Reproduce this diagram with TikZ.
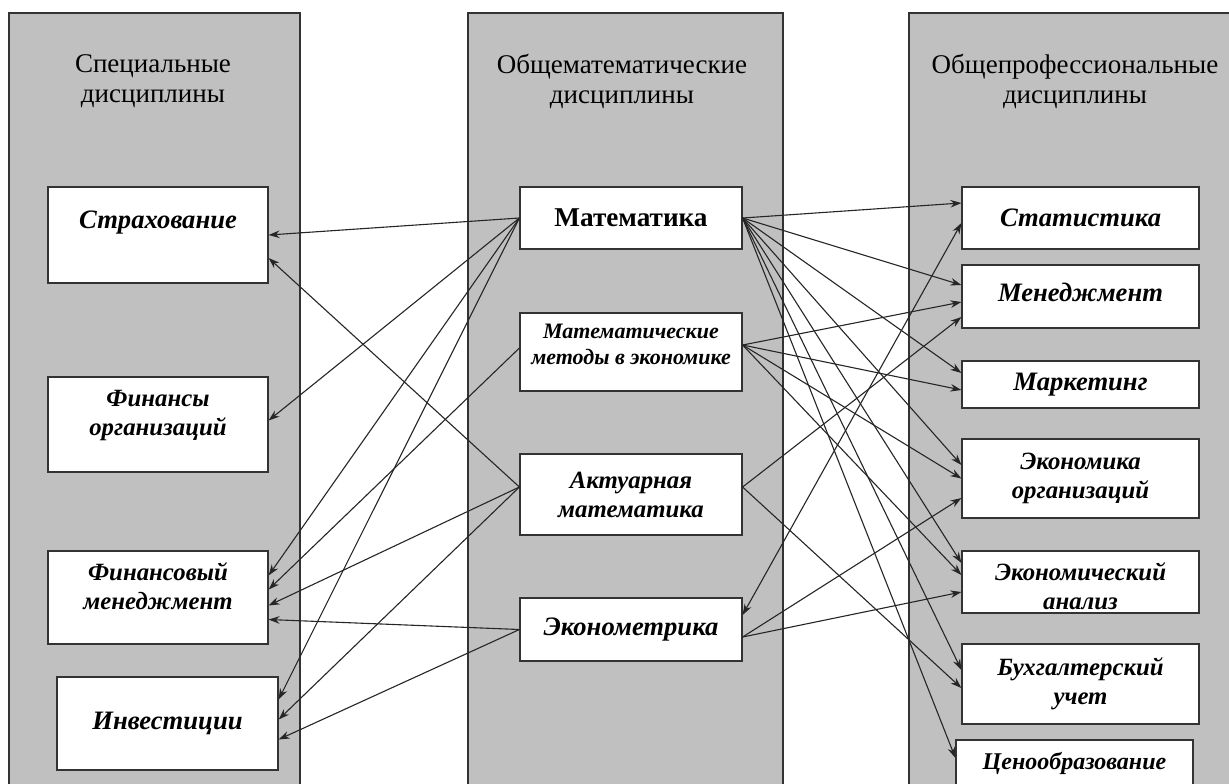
\documentclass[tikz,border=0pt]{standalone}
\usepackage{fontspec}
\setmainfont{Liberation Serif}
\usetikzlibrary{arrows.meta}
\definecolor{panelgray}{RGB}{192,192,192}
\begin{document}
\begin{tikzpicture}[x=0.5pt,y=-0.5pt,
		panel/.style={fill=panelgray,draw=black!80,line width=0.7pt},
		box/.style={draw=black!80,fill=white,line width=0.6pt,inner sep=1pt,align=center,font=\fontsize{13.3}{14.5}\selectfont\bfseries\itshape},
		twoline/.style={font=\fontsize{12.4}{14.5}\selectfont\bfseries\itshape},
		head/.style={align=center,font=\fontsize{13.5}{15}\selectfont},
		arr/.style={-{Stealth[length=5.5pt,width=3.8pt]},line width=0.55pt,black!85}]
		\useasboundingbox (0,0) rectangle (1229,783);
		\fill[white] (0,0) rectangle (1229,783);

		\draw[panel] (9,13) rectangle (300,800);
		\draw[panel] (468,13) rectangle (783,800);
		\draw[panel] (909,13) rectangle (1240,800);

		\node[head] (hspec) at (153,81) {Специальные\\дисциплины};
		\node[head] (hmath) at (622,81) {Общематематические\\дисциплины};
		\node[head] (hprof) at (1075,81) {Общепрофессиональные\\дисциплины};

		\node[box,minimum width=110pt,minimum height=48pt,text depth=15pt] (strah) at (158,235) {Страхование};
		\node[box,twoline,minimum width=110pt,minimum height=47.5pt,text depth=11.5pt] (finorg) at (158,424.5) {Финансы\\организаций};
		\node[box,twoline,minimum width=110pt,minimum height=46.5pt,text depth=11pt] (finmen) at (158,597.5) {Финансовый\\менеджмент};
		\node[box,minimum width=110.5pt,minimum height=46.5pt] (invest) at (167.5,723.5) {Инвестиции};

		\node[box,minimum width=111pt,minimum height=31pt,font=\fontsize{13.6}{14.5}\selectfont\bfseries] (mat) at (631,218) {Математика};
		\node[box,minimum width=111pt,minimum height=39pt,text depth=7.5pt,font=\fontsize{11}{13}\selectfont\bfseries\itshape] (matmet) at (631,352) {Математические\\методы в экономике};
		\node[box,twoline,minimum width=111pt,minimum height=40.5pt] (akt) at (631,494.5) {Актуарная\\математика};
		\node[box,minimum width=111pt,minimum height=31.5pt] (ekonmet) at (631,629.5) {Эконометрика};

		\node[box,minimum width=118.5pt,minimum height=31pt] (stat) at (1080.5,218) {Статистика};
		\node[box,minimum width=118.5pt,minimum height=31.5pt,text depth=4pt] (men) at (1080.5,296.5) {Менеджмент};
		\node[box,minimum width=118.5pt,minimum height=23.5pt] (mark) at (1080.5,384.5) {Маркетинг};
		\node[box,twoline,minimum width=118.5pt,minimum height=39.5pt] (ekorg) at (1080.5,478.5) {Экономика\\организаций};
		\node[box,twoline,minimum width=118.5pt,minimum height=31pt,text height=27.5pt] (ekan) at (1080.5,582) {Экономический\\анализ};
		\node[box,twoline,minimum width=118.5pt,minimum height=40pt] (buh) at (1080.5,684) {Бухгалтерский\\учет};
		\node[box,minimum width=118.5pt,minimum height=23pt,font=\fontsize{12}{14}\selectfont\bfseries\itshape] (cen) at (1074.5,763) {Ценообразование};

		\draw[arr] (mat.west) -- (strah.east);
		\foreach \t/\s in {finorg/2, finmen/11, invest/12} {\draw[arr] (mat.west) -- ([yshift=\s pt]\t.east);}
		\draw[arr] ([yshift=2pt]matmet.west) -- ([yshift=4pt]finmen.east);
		\foreach \t/\s in {strah/-11.5, finmen/-4, invest/2} {\draw[arr] ([yshift=3.75pt]akt.west) -- ([yshift=\s pt]\t.east);}
		\foreach \t/\s in {finmen/-11, invest/-8} {\draw[arr] (ekonmet.west) -- ([yshift=\s pt]\t.east);}

		\foreach \t/\s in {stat/7.5, men/5.75, mark/5.75, ekorg/6.75, ekan/9.5, buh/7, cen/2.5} {\draw[arr] (mat.east) -- ([yshift=\s pt]\t.west);}
		\foreach \t/\s in {men/-2.75, mark/-2.75, ekorg/0, ekan/3.5} {\draw[arr] ([yshift=3.5pt]matmet.east) -- ([yshift=\s pt]\t.west);}
		\foreach \t/\s in {men/-10.25, buh/-2} {\draw[arr] ([yshift=3.75pt]akt.east) -- ([yshift=\s pt]\t.west);}
		\foreach \t/\s in {ekorg/-9.75, ekan/-5} {\draw[arr] ([yshift=-3.75pt]ekonmet.east) -- ([yshift=\s pt]\t.west);}
		\draw[arr,{Stealth[length=5.5pt,width=3.8pt]}-{Stealth[length=5.5pt,width=3.8pt]}] ([yshift=7.25pt]ekonmet.east) -- ([yshift=-2.5pt]stat.west);
	\end{tikzpicture}
\end{document}
